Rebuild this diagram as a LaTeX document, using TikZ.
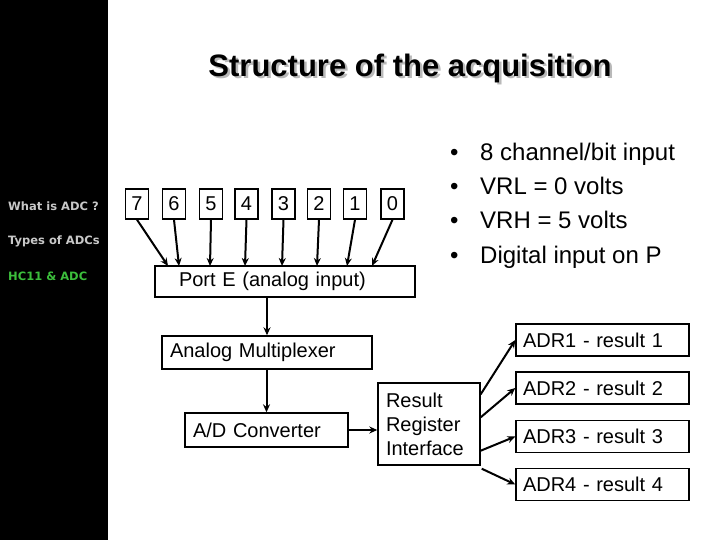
\documentclass[tikz,border=0pt]{standalone}
\usepackage{fontspec}
\setmainfont{Liberation Sans}
\newfontfamily\sidefont{DejaVu Sans}
\usetikzlibrary{arrows.meta}
\usetikzlibrary{calc}
\definecolor{sidegray}{RGB}{200,200,200}
\definecolor{sidegreen}{RGB}{60,190,60}
\definecolor{shadowgray}{RGB}{185,185,185}

\begin{document}
\begin{tikzpicture}[x=1pt,y=-1pt,>={Stealth[length=8pt,width=7pt]},
    box/.style={draw,line width=1.4pt,inner ysep=0pt,font=\fontsize{20}{24}\selectfont},
    bitbox/.style={box,inner xsep=0pt,minimum width=23pt,minimum height=30pt},
    leftbox/.style={box,align=left,inner xsep=8pt},
    wire/.style={->,line width=2pt},
    sidetext/.style={anchor=west,inner sep=0pt,font=\sidefont\bfseries\fontsize{11.5}{13}\selectfont},
    bullet/.style={anchor=base west,inner sep=0pt,font=\fontsize{24}{28}\selectfont}]
    \useasboundingbox (0,0) rectangle (720,540);
    \fill[white] (0,0) rectangle (720,540);
    \fill[black] (0,0) rectangle (108,540);
    % side menu
    \node[sidetext,text=sidegray]  (what)  at (8,206) {What is ADC ?};
    \node[sidetext,text=sidegray]  (types) at (8,241) {Types of ADCs};
    \node[sidetext,text=sidegreen] (hc)    at (8,276) {HC11 \& ADC};
    % title
    \node[text=shadowgray,font=\bfseries\fontsize{31}{36}\selectfont] (titleshadow) at (412.5,70.5) {Structure of the acquisition};
    \node[font=\bfseries\fontsize{31}{36}\selectfont] (title) at (410,68) {Structure of the acquisition};
    % bullets
    \foreach \t [count=\i] in {8 channel/bit input, VRL = 0 volts, VRH = 5 volts, Digital input on P}
      \node[bullet] (pt\i) at (450,{127+34*\i}) {\makebox[30pt][l]{\textbullet}\t};
    % port E and the eight bits
    \node[box,text width=212pt,inner xsep=24pt,align=left,minimum height=31pt] (port) at (285,281.5) {Port E (analog input)};
    \foreach \b/\x/\tx in {7/137/168, 6/174/179, 5/211/210, 4/246.5/245, 3/283.5/282, 2/319/317, 1/355/347, 0/392.5/372} {
      \node[bitbox] (b\b) at (\x,204) {\b};
      \coordinate (t\b) at (\tx,266);
      \draw[wire] (b\b.south) -- (t\b);
    }
    % conversion chain
    \node[leftbox,text width=194pt,minimum height=33pt] (mux) at (267,352.5) {Analog Multiplexer};
    \node[leftbox,text width=147pt,minimum height=34pt] (ad) at (266.5,430) {A/D Converter};
    \node[leftbox,text width=86pt,minimum height=82pt] (res) at (429,424) {Result\\Register\\Interface};
    \draw[wire] (port.south -| mux.north) -- (mux.north);
    \draw[wire] (mux.south -| ad.north) -- (ad.north);
    \draw[wire] (ad.east) -- (res.west |- ad.east);
    % result registers
    \foreach \r/\y in {1/340, 2/388, 3/436.5, 4/484.5}
      \node[leftbox,inner xsep=7pt,text width=159pt,minimum height=32pt] (adr\r) at (602.5,\y) {ADR\r\ - result \r};
    \draw[wire] ($(res.north east)+(0,12)$) -- (adr1.west);
    \draw[wire] ($(res.north east)+(0,35)$) -- (adr2.west);
    \draw[wire] ($(res.south east)+(0,-15)$) -- (adr3.west);
    \draw[wire] ($(res.south east)+(1,3)$) -- (adr4.west);
\end{tikzpicture}
\end{document}
